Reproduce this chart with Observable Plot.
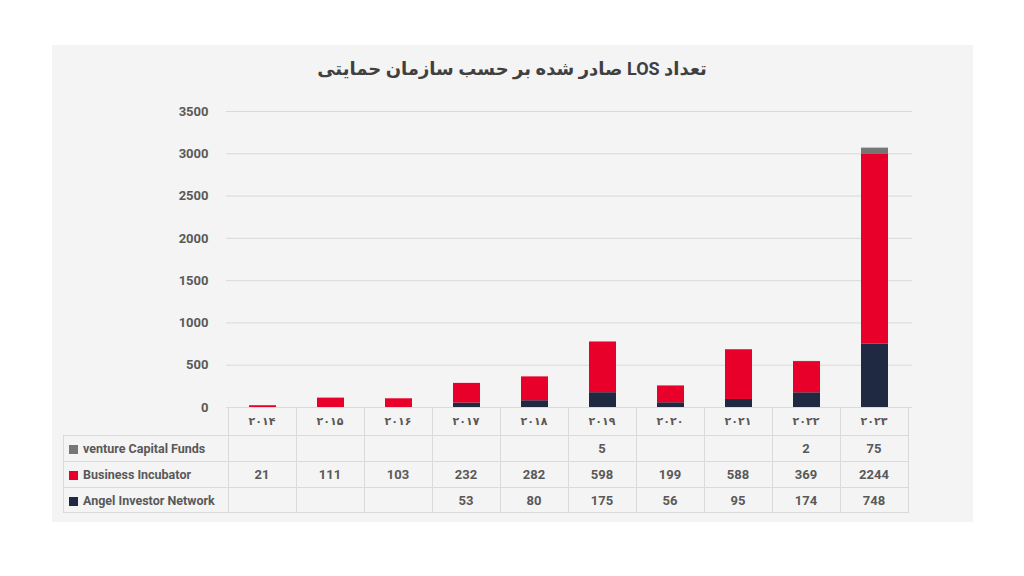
<!DOCTYPE html>
<html>
<head>
<meta charset="utf-8">
<script src="https://cdn.jsdelivr.net/npm/d3@7"></script>
<script src="https://cdn.jsdelivr.net/npm/@observablehq/plot@0.6"></script>
<style>
  html, body { margin:0; padding:0; background:#fff; }
  #wrap { position:relative; width:1024px; height:576px; overflow:hidden; font-family: Roboto, "DejaVu Sans", sans-serif; }
  #panel { position:absolute; left:52px; top:45px; width:921px; height:477px; background:#f4f4f4; }
  #title { position:absolute; left:0; top:58px; width:1024px; text-align:center; font-size:18px; font-weight:bold; color:#404040; direction:rtl; font-family: Roboto, "DejaVu Sans", sans-serif; }
  #chart { position:absolute; left:0; top:0; }
  #tbl { position:absolute; left:63px; top:407px; border-collapse:collapse; table-layout:fixed; color:#595959; font-weight:bold; font-size:13px; }
  #tbl td { border:1px solid #dadada; text-align:center; padding:0; }
  #tbl td.lab { text-align:left; padding-left:5px; white-space:nowrap; font-size:12.5px; }
  #tbl td.yr { font-family: "DejaVu Sans", sans-serif; font-size:11px; }
  .sw { display:inline-block; width:9px; height:9px; margin-right:5px; vertical-align:-1px; }
</style>
</head>
<body>
<div id="wrap">
  <div id="panel"></div>
  <div id="title">تعداد LOS صادر شده بر حسب سازمان حمایتی</div>
  <div id="chart"></div>
  <table id="tbl"></table>
</div>
<script>
const yearLabels = ["۲۰۱۴","۲۰۱۵","۲۰۱۶","۲۰۱۷","۲۰۱۸","۲۰۱۹","۲۰۲۰","۲۰۲۱","۲۰۲۲","۲۰۲۳"];
const seriesNames = ["venture Capital Funds","Business Incubator","Angel Investor Network"];
const seriesColors = ["#767676","#e8002a","#1f2942"];
const venture = [null,null,null,null,null,5,null,null,2,75];
const business = [21,111,103,232,282,598,199,588,369,2244];
const angel = [null,null,null,53,80,175,56,95,174,748];
const yTicks = [0,500,1000,1500,2000,2500,3000,3500];
const stackOrder = ["Angel Investor Network","Business Incubator","venture Capital Funds"];

const seriesValues = {"venture Capital Funds": venture, "Business Incubator": business, "Angel Investor Network": angel};
const data = [];
yearLabels.forEach((yr, i) => {
  for (const s of stackOrder) {
    const v = seriesValues[s][i];
    if (v != null) data.push({year: yr, series: s, value: v});
  }
});

const chart = Plot.plot({
  width: 1024, height: 420,
  marginLeft: 226, marginRight: 112, marginTop: 111, marginBottom: 13,
  style: {background: "transparent", fontFamily: "Roboto, sans-serif", fontSize: "13px", color: "#595959", fontWeight: "bold"},
  x: {domain: yearLabels, paddingInner: 0.6, paddingOuter: 0.3, axis: null},
  y: {domain: [0, 3500], ticks: yTicks, tickFormat: d3.format("d"), tickSize: 0, tickPadding: 18, label: null},
  color: {domain: seriesNames, range: seriesColors},
  marks: [
    Plot.ruleY(yTicks, {stroke: "#d9d9d9", strokeWidth: 1}),
    Plot.barY(data, {x: "year", y: "value", fill: "series", order: stackOrder})
  ]
});
document.getElementById("chart").appendChild(chart);

// table aligned with the x band scale
const sx = chart.scale("x");
const step = sx.step;
const firstLeft = sx.apply(yearLabels[0]) + sx.bandwidth / 2 - step / 2;
const tbl = document.getElementById("tbl");
const labW = firstLeft - 64;
let cg = `<colgroup><col style="width:${labW}px">` + yearLabels.map(() => `<col style="width:${step}px">`).join("") + `</colgroup>`;
let html = cg;
html += `<tr style="height:28px"><td style="border-top:none;border-left:none;"></td>` + yearLabels.map(y => `<td class="yr">${y}</td>`).join("") + `</tr>`;
const rowH = [26, 26, 25];
seriesNames.forEach((s, r) => {
  const vals = seriesValues[s];
  html += `<tr style="height:${rowH[r]}px"><td class="lab"><span class="sw" style="background:${seriesColors[r]}"></span>${s}</td>` +
    vals.map(v => `<td>${v == null ? "" : v}</td>`).join("") + `</tr>`;
});
tbl.innerHTML = html;
tbl.style.width = (labW + step * yearLabels.length) + "px";
</script>
</body>
</html>
